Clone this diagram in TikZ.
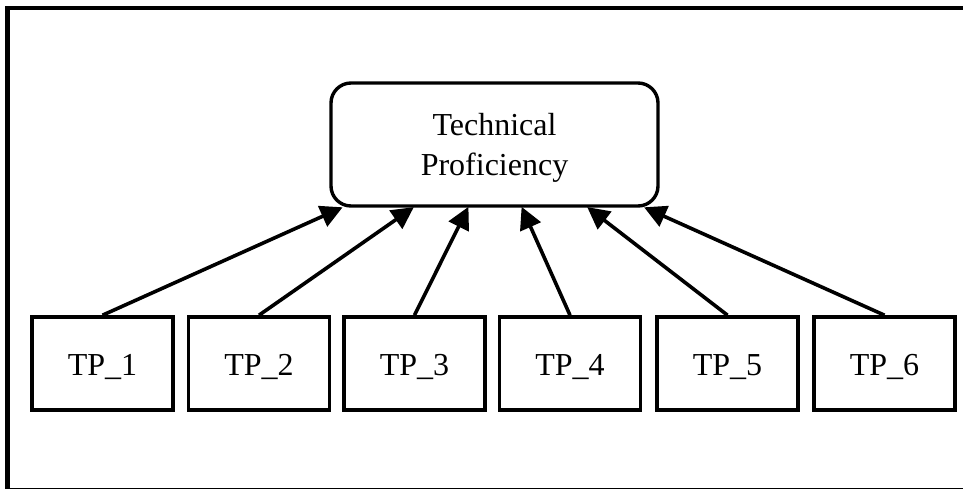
\documentclass[tikz,border=0pt]{standalone}
\usepackage{fontspec}
\setmainfont{Liberation Serif}
\usetikzlibrary{arrows.meta}
\tikzset{
  tpbox/.style={draw, line width=3.6pt, minimum width=141pt, minimum height=93pt, inner sep=0pt, text height=23pt, text depth=0pt, font=\fontsize{32}{40}\selectfont},
  topbox/.style={draw, line width=3.4pt, rounded corners=20pt, minimum width=327pt, minimum height=123pt, align=center, inner sep=0pt, text height=62pt, text depth=0pt, font=\fontsize{32}{40}\selectfont},
  conn/.style={line width=3.6pt, -{Triangle[length=22pt,width=22pt]}, shorten >=-1pt},
  frame/.style={line width=4.5pt}
}
\begin{document}
\begin{tikzpicture}[x=1pt,y=-1pt]
\useasboundingbox (0,0) rectangle (963,488);
\draw[frame] (7.5,8) rectangle (980,490);
\node[topbox] (top) at (494.5,144.5) {Technical\\Proficiency};
\node[tpbox] (b1) at (102.5,363.5) {TP\_1};
\node[tpbox] (b2) at (259,363.5) {TP\_2};
\node[tpbox] (b3) at (414.5,363.5) {TP\_3};
\node[tpbox] (b4) at (570,363.5) {TP\_4};
\node[tpbox] (b5) at (727.5,363.5) {TP\_5};
\node[tpbox] (b6) at (884.5,363.5) {TP\_6};
\draw[conn] (b1.north) -- ([xshift=-152.8pt]top.south);
\draw[conn] (b2.north) -- ([xshift=-81.5pt]top.south);
\draw[conn] (b3.north) -- ([xshift=-26.5pt]top.south);
\draw[conn] (b4.north) -- ([xshift=27.5pt]top.south);
\draw[conn] (b5.north) -- ([xshift=93.5pt]top.south);
\draw[conn] (b6.north) -- ([xshift=150.5pt]top.south);
\end{tikzpicture}
\end{document}
